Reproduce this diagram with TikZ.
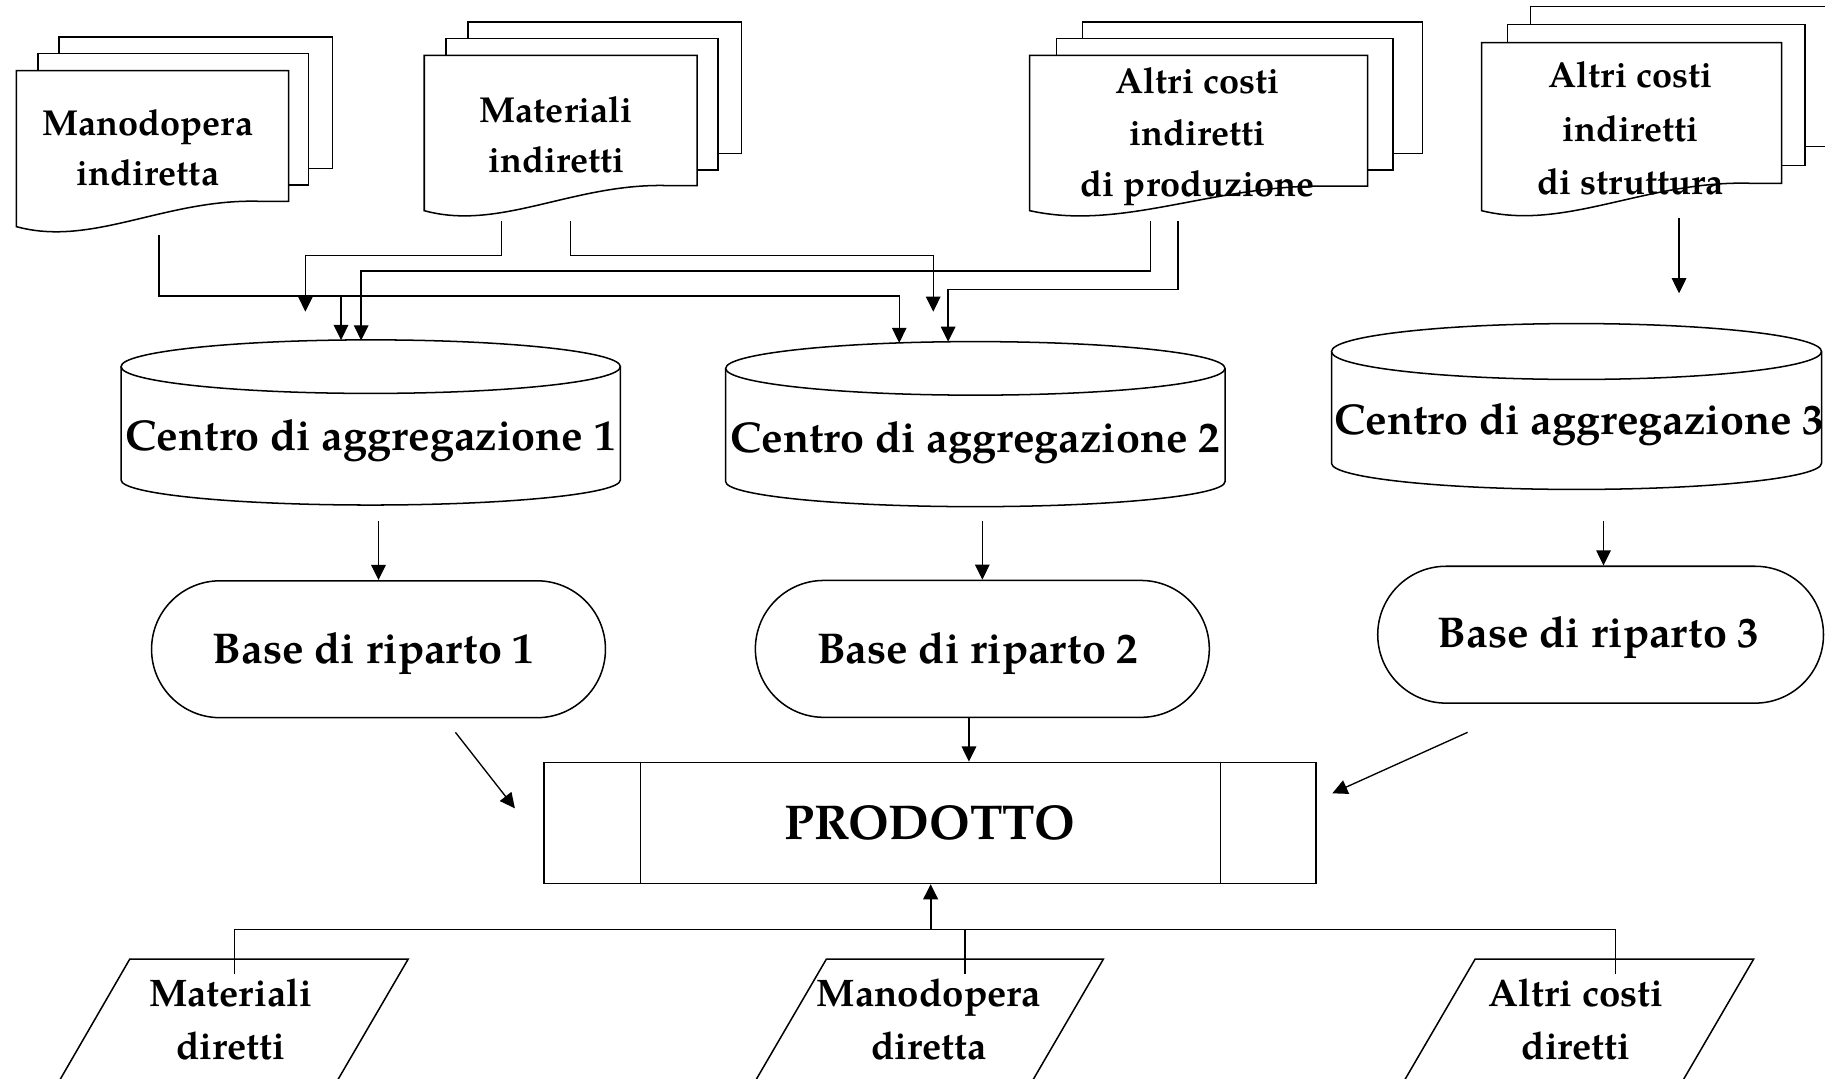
\documentclass[tikz,border=0pt]{standalone}
\usepackage{fontspec}
\setmainfont{TeX Gyre Pagella}
\usetikzlibrary{arrows.meta,shapes.misc,calc}
\newcommand\docfront[5]{% xl, xr, top, ybl, ybr
  \pgfmathsetmacro\dwid{#2-#1}
  \filldraw[sheet] (#1,#4) -- (#1,#3) -- (#2,#3) -- (#2,#5) -- ({#2-0.1*\dwid},#5)
    .. controls ({#1+0.55*\dwid},{#5-3}) and ({#1+0.28*\dwid},{#4+18}) .. (#1,#4) -- cycle;}
\newcommand\cylbox[7]{% x1, x2, cx, rx, ytop, rytop, ybot (ry bottom = rytop-1.5)
  \filldraw[sheet] (#1,#5) -- (#1,#7) arc[start angle=180,end angle=360,x radius=#4pt,y radius=#6pt-1.5pt] -- (#2,#5);
  \draw[sheet] (#3,#5) ellipse[x radius=#4pt,y radius=#6pt];}
\tikzset{
  sheet/.style={draw,fill=white,line width=1.3pt,line join=miter},
  conn/.style={draw,line width=1.15pt},
  arr/.style={draw,line width=1.15pt,-{Triangle[length=13pt,width=12.5pt]}},
  doctext/.style={align=center,inner sep=0pt,font=\fontsize{31}{43}\selectfont\bfseries},
  bottext/.style={align=center,inner sep=0pt,font=\fontsize{33}{46}\selectfont\bfseries},
  cyltext/.style={inner sep=0pt,font=\fontsize{37}{44}\selectfont\bfseries},
  basebox/.style={rounded rectangle,draw,line width=1.3pt,minimum width=390pt,minimum height=117.6pt,inner sep=0pt},
  prodbox/.style={rectangle,draw,line width=1.3pt,minimum width=663pt,minimum height=104pt,inner sep=0pt,font=\fontsize{42}{50}\selectfont\bfseries},
}
\begin{document}
\begin{tikzpicture}[x=1pt,y=-1pt]
\path[use as bounding box] (0,0) rectangle (1568,927);
\fill[white] (0,0) rectangle (1568,927);
\clip (0,0) rectangle (1568,927);

% ---------- document stacks ----------
% Manodopera indiretta
\filldraw[sheet] (50.8,32) rectangle (285.7,144.6);
\filldraw[sheet] (32.5,45.8) rectangle (265,159);
\docfront{14}{248}{60.7}{194.7}{173}
\node[doctext] (tmo) at (127,127) {Manodopera\\indiretta};
% Materiali indiretti
\filldraw[sheet] (402,18.9) rectangle (637,131.7);
\filldraw[sheet] (383,33.2) rectangle (617,146);
\docfront{364.5}{599}{47.5}{181}{159.5}
\node[doctext] (tmi) at (478,116) {Materiali\\indiretti};
% Altri costi indiretti di produzione
\filldraw[sheet] (930,18.9) rectangle (1222,131.7);
\filldraw[sheet] (907.5,33) rectangle (1197,146);
\docfront{884.7}{1175}{47.5}{181}{160}
\node[doctext,font=\fontsize{31}{44}\selectfont\bfseries] (tap) at (1029,117.5) {Altri costi\\indiretti\\di produzione};
% Altri costi indiretti di struttura
\filldraw[sheet] (1315,5.7) rectangle (1600,126);
\filldraw[sheet] (1295,20.9) rectangle (1551,142);
\docfront{1273}{1530.7}{36.7}{181}{157.5}
\node[doctext,font=\fontsize{31}{46}\selectfont\bfseries] (tas) at (1401,110.5) {Altri costi\\indiretti\\di struttura};

% ---------- cylinders ----------
\cylbox{104}{533}{318.5}{214.5}{315}{23}{412.4}
\node[cyltext] (c1) at (318.5,378.5) {Centro di aggregazione 1};
\cylbox{623.5}{1052.5}{838}{214.5}{316.5}{23}{413.8}
\node[cyltext] (c2) at (838,380) {Centro di aggregazione 2};
\cylbox{1144}{1565}{1354.5}{210.5}{302}{24}{398}
\node[cyltext] (c3) at (1357,364.5) {Centro di aggregazione 3};

% ---------- bases ----------
\node[basebox] (b1) at (325.2,557.8) {};
\node[cyltext] (b1t) at (321,561.5) {Base di riparto 1};
\node[basebox] (b2) at (844,557.5) {};
\node[cyltext] (b2t) at (840,561.5) {Base di riparto 2};
\node[basebox,minimum width=383pt] (b3) at (1375.2,545.3) {};
\node[cyltext] (b3t) at (1373.5,548) {Base di riparto 3};

% ---------- product ----------
\node[prodbox] (prod) at (799.1,707) {PRODOTTO};
\draw[line width=1.3pt] ([xshift=83.4pt]prod.north west) -- ([xshift=83.4pt]prod.south west);
\draw[line width=1.3pt] ([xshift=-82.6pt]prod.north east) -- ([xshift=-82.6pt]prod.south east);

% ---------- bottom parallelograms ----------
\draw[line width=1.3pt] (111.5,824) -- (350.7,824) -- (283.1,940) -- (44.4,940) -- cycle;
\draw[line width=1.3pt] (710,824) -- (948,824) -- (880.4,940) -- (642.4,940) -- cycle;
\draw[line width=1.3pt] (1267.4,824) -- (1506.7,824) -- (1439.1,940) -- (1199.8,940) -- cycle;
\node[bottext] (p1) at (198,876) {Materiali\\diretti};
\node[bottext] (p2) at (798,876) {Manodopera\\diretta};
\node[bottext] (p3) at (1354,876) {Altri costi\\diretti};

% ---------- named connection points ----------
\coordinate (mo-out) at (136.6,202);
\coordinate (mi-out1) at (431,190);
\coordinate (mi-out2) at (490,190);
\coordinate (ap-out1) at (988.5,190);
\coordinate (ap-out2) at (1012,190);
\coordinate (as-out) at (1442.6,187.6);
\coordinate (as-end) at (1442.6,252);
\coordinate (busA) at (0,254.3);
\coordinate (busB) at (0,219.4);
\coordinate (busC) at (0,232.8);
\coordinate (busD) at (0,248.6);
\coordinate (c1-a) at (293,292.2);
\coordinate (c1-b) at (310.3,292.5);
\coordinate (c1-free) at (262.4,267.8);
\coordinate (c2-a) at (772.6,294.6);
\coordinate (c2-b) at (814.6,293.6);
\coordinate (c2-free) at (801.8,267.8);
\coordinate (c1-out) at (325.2,448);
\coordinate (c2-out) at (844,448);
\coordinate (c3-out) at (1377.7,448);
\coordinate (b2-out) at (832.5,616.6);
\coordinate (d1-s) at (391.3,629.2);
\coordinate (d1-e) at (442.4,694.5);
\coordinate (d3-s) at (1260.9,629.2);
\coordinate (d3-e) at (1144.7,681.6);
\coordinate (bus) at (799.6,798.4);
\coordinate (p1-in) at (201.2,836.8);
\coordinate (p2-in) at (829,836.8);
\coordinate (p3-in) at (1388,836.8);

% ---------- connectors (top) ----------
\draw[arr] (mo-out) -- (mo-out |- busA) -| (c2-a);
\draw[arr] (c1-a |- busA) -- (c1-a);
\draw[arr] (mi-out1) -- (mi-out1 |- busB) -| (c1-free);
\draw[arr] (mi-out2) -- (mi-out2 |- busB) -| (c2-free);
\draw[arr] (ap-out1) -- (ap-out1 |- busC) -| (c1-b);
\draw[arr] (ap-out2) -- (ap-out2 |- busD) -| (c2-b);
\draw[arr] (as-out) -- (as-end);

% ---------- connectors (middle) ----------
\draw[arr] (c1-out) -- (c1-out |- b1.north);
\draw[arr] (c2-out) -- (c2-out |- b2.north);
\draw[arr] (c3-out) -- (c3-out |- b3.north);
\draw[arr] (b2-out) -- (b2-out |- prod.north);
\draw[arr] (d1-s) -- (d1-e);
\draw[arr] (d3-s) -- (d3-e);

% ---------- connectors (bottom) ----------
\draw[conn] (p1-in) -- (p1-in |- bus) -- (p3-in |- bus) -- (p3-in);
\draw[conn] (p2-in) -- (p2-in |- bus);
\draw[arr,line width=2pt] (bus) -- (bus |- prod.south);
\end{tikzpicture}
\end{document}
